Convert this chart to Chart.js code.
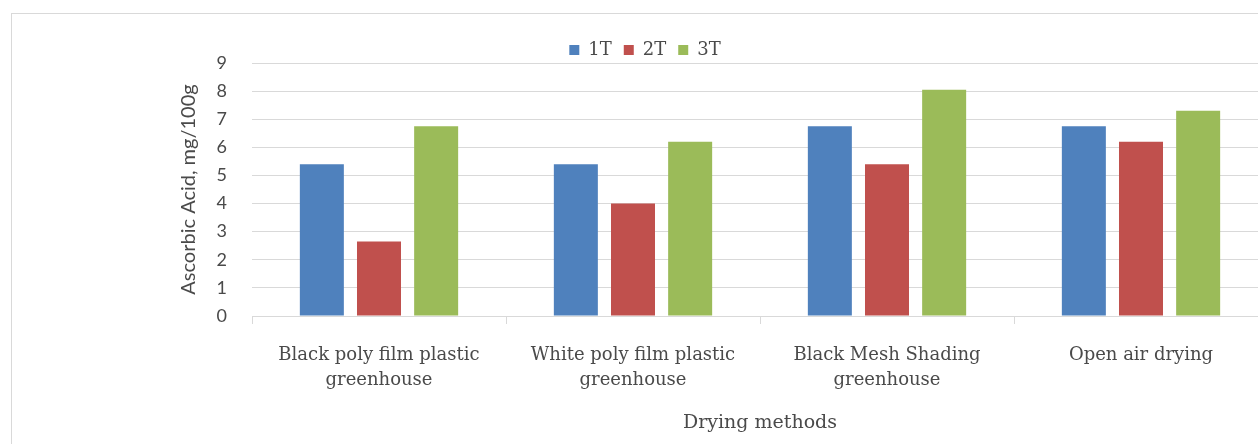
<!DOCTYPE html>
<html>
<head>
<meta charset="utf-8">
<script src="https://cdn.jsdelivr.net/npm/chart.js@4"></script>
<style>
  html, body { margin: 0; padding: 0; background: #ffffff; overflow: hidden; width: 1258px; height: 444px; }
  #frame { position: absolute; left: 11px; top: 13px; width: 1300px; height: 500px; border: 1px solid #d9d9d9; }
  #wrap { position: absolute; left: 0; top: 0; width: 1280px; height: 444px; }
</style>
</head>
<body>
<div id="frame"></div>
<div id="wrap"><canvas id="c" width="1280" height="444"></canvas></div>
<script>
// Drying methods on the category axis (split into lines as printed)
const categories = [
  ["Black poly film plastic", "greenhouse"],
  ["White poly film plastic", "greenhouse"],
  ["Black Mesh Shading", "greenhouse"],
  "Open air drying"
];

// Ascorbic acid content (mg/100g) for each treatment
const series1T = [5.4, 5.4, 6.75, 6.75];
const series2T = [2.65, 4.0, 5.4, 6.2];
const series3T = [6.75, 6.2, 8.05, 7.3];

const seriesNames = ["1T", "2T", "3T"];
const yTicks = [0, 1, 2, 3, 4, 5, 6, 7, 8, 9];

const colors = ["#4f81bd", "#c0504d", "#9bbb59"];
const textColor = "#4a4a4a";
const gridColor = "#d9d9d9";
const serif = "'DejaVu Serif', 'Liberation Serif', serif";
const sans = "Lato, 'Liberation Sans', sans-serif";

// keep the legend band a fixed height above the plot
const legendHeight = {
  id: "legendHeight",
  beforeInit(chart) {
    const fit = chart.legend.fit;
    chart.legend.fit = function () {
      fit.call(this);
      this.height = 34;
    };
  }
};

new Chart(document.getElementById("c"), {
  type: "bar",
  data: {
    labels: categories,
    datasets: [series1T, series2T, series3T].map((vals, i) => ({
      label: seriesNames[i],
      data: vals,
      backgroundColor: colors[i],
      borderWidth: 0,
      categoryPercentage: 0.675,
      barPercentage: 0.77
    }))
  },
  options: {
    responsive: false,
    animation: false,
    layout: { padding: { left: 22, right: 12, top: 29, bottom: 0 } },
    plugins: {
      legend: {
        position: "top",
        labels: {
          boxWidth: 10,
          boxHeight: 10,
          padding: 12,
          color: textColor,
          font: { family: serif, size: 18 }
        }
      },
      tooltip: { enabled: false }
    },
    scales: {
      x: {
        grid: {
          drawOnChartArea: false,
          drawTicks: true,
          tickLength: 8,
          color: gridColor,
          offset: true
        },
        border: { display: true, color: gridColor },
        ticks: {
          color: textColor,
          padding: 19,
          maxRotation: 0,
          autoSkip: false,
          font: { family: serif, size: 18, lineHeight: 1.38 }
        },
        title: {
          display: true,
          text: "Drying methods",
          color: textColor,
          font: { family: serif, size: 19 },
          padding: { top: 0, bottom: 10 }
        },
        afterFit(scale) { scale.height = 128; }
      },
      y: {
        min: 0,
        max: 9,
        afterBuildTicks(scale) { scale.ticks = yTicks.map(v => ({ value: v })); },
        grid: { color: gridColor, drawTicks: false },
        border: { display: false },
        ticks: {
          color: textColor,
          padding: 25,
          font: { family: sans, size: 18 }
        },
        title: {
          display: true,
          text: "Ascorbic Acid, mg/100g",
          color: textColor,
          font: { family: sans, size: 20 },
          padding: { top: 155, bottom: 0 }
        },
        afterFit(scale) { scale.width = 230; }
      }
    }
  },
  plugins: [legendHeight]
});
</script>
</body>
</html>
